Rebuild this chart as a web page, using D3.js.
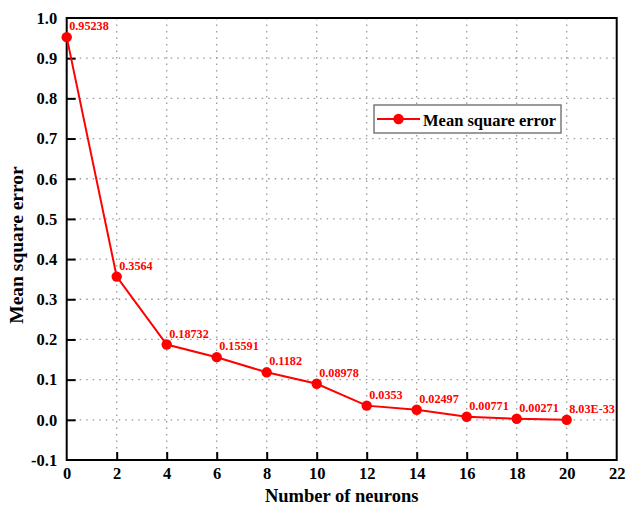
<!DOCTYPE html>
<html>
<head>
<meta charset="utf-8">
<script src="https://cdn.jsdelivr.net/npm/d3@7"></script>
<style>
  body { margin: 0; background: #fff; }
  svg text { font-family: "Liberation Serif", "Times New Roman", serif; font-weight: bold; }
</style>
</head>
<body>
<div id="chart"></div>
<script>
// data
var neurons = [0, 2, 4, 6, 8, 10, 12, 14, 16, 18, 20];
var mse = [0.95238, 0.3564, 0.18732, 0.15591, 0.1182, 0.08978, 0.0353, 0.02497, 0.00771, 0.00271, 8.03e-33];
var pointLabels = ["0.95238", "0.3564", "0.18732", "0.15591", "0.1182", "0.08978", "0.0353", "0.02497", "0.00771", "0.00271", "8.03E-33"];
var xTicks = [0, 2, 4, 6, 8, 10, 12, 14, 16, 18, 20, 22];
var yTicks = [-0.1, 0.0, 0.1, 0.2, 0.3, 0.4, 0.5, 0.6, 0.7, 0.8, 0.9, 1.0];
var seriesName = "Mean square error";

var width = 627, height = 505;
var margin = {top: 18, right: 10.3, bottom: 45, left: 66.7};
var red = "#ff0000";
var serif = '"Liberation Serif", "Times New Roman", serif';

var data = neurons.map((n, i) => ({x: n, y: mse[i], label: pointLabels[i]}));

var svg = d3.select("#chart").append("svg")
    .attr("width", width)
    .attr("height", height);

var x = d3.scaleLinear()
    .domain([0, 22])
    .range([margin.left, width - margin.right]);

var y = d3.scaleLinear()
    .domain([-0.1, 1.0])
    .range([height - margin.bottom, margin.top]);

// dotted grid
var grid = svg.append("g").attr("class", "grid")
    .attr("stroke", "#9a9a9a")
    .attr("stroke-width", 1.3)
    .attr("stroke-dasharray", "1.5,5");

grid.selectAll("line.gx")
    .data(xTicks.slice(1, -1))
    .enter().append("line")
    .attr("x1", d => x(d)).attr("x2", d => x(d))
    .attr("y1", y(1.0)).attr("y2", y(-0.1));

grid.selectAll("line.gy")
    .data(yTicks.slice(1, -1))
    .enter().append("line")
    .attr("y1", d => y(d)).attr("y2", d => y(d))
    .attr("x1", x(0)).attr("x2", x(22));

// axes with inward ticks
var xAxis = d3.axisBottom(x)
    .tickValues(xTicks)
    .tickSize(-8)
    .tickPadding(7.5)
    .tickFormat(d => d);

var yAxis = d3.axisLeft(y)
    .tickValues(yTicks)
    .tickSize(-9)
    .tickPadding(9.5)
    .tickFormat(d => d.toFixed(1));

var gx = svg.append("g")
    .attr("transform", `translate(0, ${y(-0.1)})`)
    .call(xAxis);

var gy = svg.append("g")
    .attr("transform", `translate(${x(0)}, 0)`)
    .call(yAxis);

[gx, gy].forEach(g => {
    g.attr("font-family", serif).attr("font-size", 16.5);
    g.select(".domain").remove();
    g.selectAll(".tick line").attr("stroke", "#000").attr("stroke-width", 2);
    g.selectAll(".tick text")
        .attr("fill", "#000")
        .style("font-family", serif)
        .style("font-weight", "bold")
        .style("font-size", "16.5px");
});
gy.selectAll(".tick").filter(d => d === 1.0 || d === -0.1).select("line").remove();
gx.selectAll(".tick").filter(d => d === 0 || d === 22).select("line").remove();

// frame
svg.append("rect")
    .attr("x", x(0))
    .attr("y", y(1.0))
    .attr("width", x(22) - x(0))
    .attr("height", y(-0.1) - y(1.0))
    .attr("fill", "none")
    .attr("stroke", "#000")
    .attr("stroke-width", 2);

// series
var line = d3.line()
    .x(d => x(d.x))
    .y(d => y(d.y));

svg.append("path")
    .datum(data)
    .attr("fill", "none")
    .attr("stroke", red)
    .attr("stroke-width", 2)
    .attr("d", line);

svg.selectAll("circle.pt")
    .data(data)
    .enter().append("circle")
    .attr("class", "pt")
    .attr("cx", d => x(d.x))
    .attr("cy", d => y(d.y))
    .attr("r", 5.2)
    .attr("fill", red);

svg.selectAll("text.valueLabel")
    .data(data)
    .enter().append("text")
    .attr("class", "valueLabel")
    .attr("x", d => x(d.x) + 2.5)
    .attr("y", d => y(d.y) - 7)
    .attr("fill", red)
    .style("font-size", "12.2px")
    .text(d => d.label);

// legend
var legend = svg.append("g");
legend.append("rect")
    .attr("x", 374).attr("y", 105)
    .attr("width", 187).attr("height", 28)
    .attr("fill", "#fff")
    .attr("stroke", "#7a7a7a")
    .attr("stroke-width", 1.5);
legend.append("line")
    .attr("x1", 377).attr("x2", 420)
    .attr("y1", 119).attr("y2", 119)
    .attr("stroke", red).attr("stroke-width", 2);
legend.append("circle")
    .attr("cx", 398.5).attr("cy", 119).attr("r", 5.2)
    .attr("fill", red);
legend.append("text")
    .attr("x", 423).attr("y", 126)
    .style("font-size", "16.5px")
    .text(seriesName);

// axis titles
svg.append("text")
    .attr("x", (x(0) + x(22)) / 2)
    .attr("y", 502)
    .attr("text-anchor", "middle")
    .style("font-size", "18.5px")
    .text("Number of neurons");

svg.append("text")
    .attr("transform", "translate(23, 245) rotate(-90)")
    .attr("text-anchor", "middle")
    .style("font-size", "19.5px")
    .text("Mean square error");
</script>
</body>
</html>
